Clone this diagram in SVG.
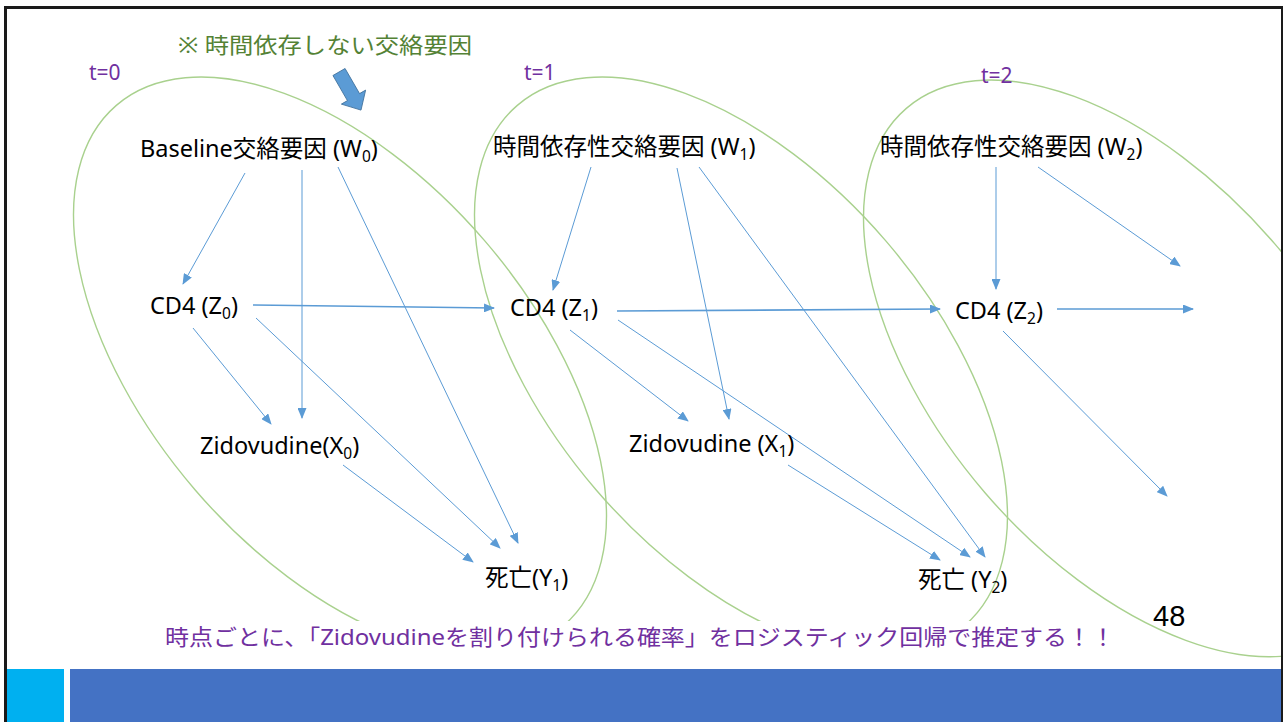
<svg xmlns="http://www.w3.org/2000/svg" width="1283" height="722" viewBox="0 0 1283 722">
<style>
.node{font-family:"Noto Sans","Noto Sans CJK JP",sans-serif;font-size:23.5px;fill:#000}
.sub{font-size:15.5px}
.tlabel{font-family:"Noto Sans","Noto Sans CJK JP",sans-serif;font-size:21px;fill:#7030A0}
.conn{stroke:#5B9BD5;stroke-width:1;fill:none;marker-end:url(#ah)}
.conn.thick{stroke-width:1.6}
.ell{fill:none;stroke:#A9D18E;stroke-width:1.4}
</style>
<defs>
<marker id="ah" markerUnits="userSpaceOnUse" markerWidth="11" markerHeight="9" refX="10" refY="4.5" orient="auto">
<path d="M0,0 L11,4.5 L0,9 z" fill="#5B9BD5"/>
</marker>
<clipPath id="slide"><rect x="7" y="9" width="1274" height="660"/></clipPath>
</defs>
<rect x="0" y="0" width="1283" height="722" fill="#fff"/>

<g id="timeframes" clip-path="url(#slide)">
<ellipse class="ell" cx="0" cy="0" rx="343" ry="191" transform="translate(340 365.4) rotate(49.3)"/>
<ellipse class="ell" cx="0" cy="0" rx="343" ry="191" transform="translate(741 365.4) rotate(49.3)"/>
<ellipse class="ell" cx="0" cy="0" rx="343" ry="191" transform="translate(1130 368.4) rotate(49.3)"/>
</g>

<g id="labels">
<text class="tlabel" x="89" y="80">t=0</text>
<text class="tlabel" x="524" y="80">t=1</text>
<text class="tlabel" x="981" y="83">t=2</text>
</g>

<g id="note">
<text x="178" y="53" textLength="294" lengthAdjust="spacingAndGlyphs" style="font-family:'Noto Sans','Noto Sans CJK JP',sans-serif;font-size:22px;fill:#548235">※ 時間依存しない交絡要因</text>
<polygon points="0,-7 29,-7 29,-14 44,0 29,14 29,7 0,7" fill="#5B9BD5" stroke="#41719C" stroke-width="0.8" transform="translate(339 72) rotate(60)"/>
</g>

<g id="connectors">
<line class="conn" x1="245" y1="173" x2="183" y2="284"/>
<line class="conn" x1="302" y1="170" x2="302" y2="418"/>
<line class="conn" x1="338" y1="167" x2="518" y2="543"/>
<line class="conn thick" x1="253" y1="305" x2="494" y2="308"/>
<line class="conn" x1="193" y1="328" x2="271" y2="424"/>
<line class="conn" x1="256" y1="318" x2="500" y2="548"/>
<line class="conn" x1="343" y1="465" x2="473" y2="562"/>
<line class="conn" x1="591" y1="167" x2="553" y2="290"/>
<line class="conn" x1="677" y1="168" x2="729" y2="419"/>
<line class="conn" x1="699" y1="167" x2="985" y2="557"/>
<line class="conn thick" x1="617" y1="311" x2="940" y2="309"/>
<line class="conn" x1="570" y1="330" x2="688" y2="421"/>
<line class="conn" x1="618" y1="320" x2="970" y2="557"/>
<line class="conn" x1="788" y1="465" x2="940" y2="560"/>
<line class="conn" x1="996" y1="167" x2="996" y2="289"/>
<line class="conn" x1="1038" y1="167" x2="1180" y2="266"/>
<line class="conn thick" x1="1057" y1="309" x2="1193" y2="309"/>
<line class="conn" x1="1003" y1="331" x2="1167" y2="496"/>
</g>

<g id="W0"><text class="node" x="140" y="157">Baseline交絡要因 (W<tspan class="sub" dy="5">0</tspan><tspan dy="-5">)</tspan></text></g>
<g id="W1"><text class="node" x="493" y="155">時間依存性交絡要因 (W<tspan class="sub" dy="5">1</tspan><tspan dy="-5">)</tspan></text></g>
<g id="W2"><text class="node" x="880" y="155">時間依存性交絡要因 (W<tspan class="sub" dy="5">2</tspan><tspan dy="-5">)</tspan></text></g>
<g id="Z0"><text class="node" x="150" y="314">CD4 (Z<tspan class="sub" dy="5">0</tspan><tspan dy="-5">)</tspan></text></g>
<g id="Z1"><text class="node" x="510" y="316">CD4 (Z<tspan class="sub" dy="5">1</tspan><tspan dy="-5">)</tspan></text></g>
<g id="Z2"><text class="node" x="955" y="319">CD4 (Z<tspan class="sub" dy="5">2</tspan><tspan dy="-5">)</tspan></text></g>
<g id="X0"><text class="node" x="200" y="454">Zidovudine(X<tspan class="sub" dy="5">0</tspan><tspan dy="-5">)</tspan></text></g>
<g id="X1"><text class="node" x="629" y="452">Zidovudine (X<tspan class="sub" dy="5">1</tspan><tspan dy="-5">)</tspan></text></g>
<g id="Y1"><text class="node" x="485" y="586">死亡(Y<tspan class="sub" dy="5">1</tspan><tspan dy="-5">)</tspan></text></g>
<g id="Y2"><text class="node" x="918" y="588">死亡 (Y<tspan class="sub" dy="5">2</tspan><tspan dy="-5">)</tspan></text></g>

<g id="caption">
<rect x="158" y="621" width="962" height="42" fill="#fff"/>
<text x="165" y="645" textLength="950" lengthAdjust="spacingAndGlyphs" style="font-family:'Noto Sans','Noto Sans CJK JP',sans-serif;font-size:22px;fill:#7030A0">時点ごとに、「Zidovudineを割り付けられる確率」をロジスティック回帰で推定する！！</text>
</g>

<g id="pagenum"><text x="1153" y="626" style="font-family:'Liberation Sans',sans-serif;font-size:29px;fill:#000">48</text></g>

<g id="frame">
<rect x="7" y="669" width="57" height="53" fill="#00B0F0"/>
<rect x="70" y="669" width="1211" height="53" fill="#4472C4"/>
<rect x="4" y="6" width="1279" height="3" fill="#1a1a1a"/>
<rect x="4" y="6" width="3" height="716" fill="#1a1a1a"/>
<rect x="1281" y="6" width="2" height="716" fill="#1a1a1a"/>
</g>
</svg>
